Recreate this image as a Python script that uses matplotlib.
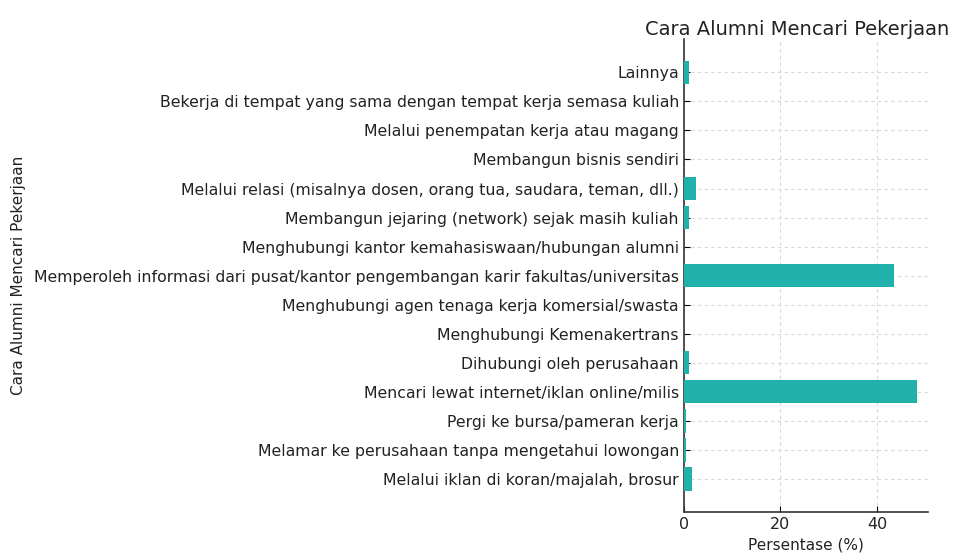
import matplotlib.pyplot as plt

labels = [
    "Melalui iklan di koran/majalah, brosur",
    "Melamar ke perusahaan tanpa mengetahui lowongan",
    "Pergi ke bursa/pameran kerja",
    "Mencari lewat internet/iklan online/milis",
    "Dihubungi oleh perusahaan",
    "Menghubungi Kemenakertrans",
    "Menghubungi agen tenaga kerja komersial/swasta",
    "Memperoleh informasi dari pusat/kantor pengembangan karir fakultas/universitas",
    "Menghubungi kantor kemahasiswaan/hubungan alumni",
    "Membangun jejaring (network) sejak masih kuliah",
    "Melalui relasi (misalnya dosen, orang tua, saudara, teman, dll.)",
    "Membangun bisnis sendiri",
    "Melalui penempatan kerja atau magang",
    "Bekerja di tempat yang sama dengan tempat kerja semasa kuliah",
    "Lainnya",
]
persen = [1.6, 0.5, 0.5, 48.2, 1.1, 0, 0, 43.6, 0, 1.1, 2.5, 0, 0, 0, 1.1]

fig, ax = plt.subplots(figsize=(9.7, 5.53), dpi=100)
ax.barh(labels, persen, color="lightseagreen", zorder=3)
ax.set_title("Cara Alumni Mencari Pekerjaan", fontsize=14, color="#222222", x=0.465, pad=2)
ax.set_xlabel("Persentase (%)", fontsize=11, color="#222222")
ax.set_ylabel("Cara Alumni Mencari Pekerjaan", fontsize=11, color="#222222")
ax.yaxis.set_label_coords(-2.69, 0.5)
ax.tick_params(axis="y", labelsize=11.35)
ax.tick_params(axis="x", labelsize=11.5)
ax.tick_params(direction="in", length=4, labelcolor="#222222")
ax.grid(True, linestyle=(0, (3, 3)), color="#d8d8d8", linewidth=0.8, zorder=0)
ax.spines["top"].set_visible(False)
ax.spines["right"].set_visible(False)
ax.spines["left"].set_color("#333333")
ax.spines["bottom"].set_color("#333333")
ax.spines["left"].set_linewidth(1.2)
ax.spines["bottom"].set_linewidth(1.2)
plt.subplots_adjust(left=0.705, right=0.957, bottom=0.074, top=0.929)
plt.savefig("out.png")
